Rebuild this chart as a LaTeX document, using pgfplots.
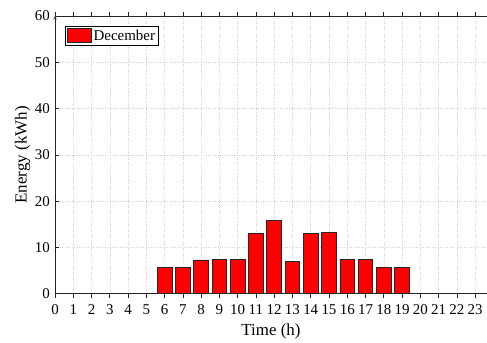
\documentclass[border=0pt]{standalone}
\usepackage{fontspec}
\setmainfont{Liberation Serif}
\usepackage{pgfplots}
\pgfplotsset{compat=1.18}

\definecolor{axgray}{rgb}{0.15,0.15,0.15}
\definecolor{gridgray}{rgb}{0.82,0.82,0.82}

\begin{document}
\begin{tikzpicture}
\begin{axis}[
  at={(0,0)}, anchor=south west,
  scale only axis,
  width=432bp, height=277.7bp,
  xmin=0, xmax=23.65,
  ymin=0, ymax=60,
  xtick={0,1,...,23},
  ytick={0,10,...,60},
  axis x line=box,
  axis y line=left,
  axis line style={axgray, line width=0.6pt},
  tick align=inside,
  tick style={axgray, line width=0.6pt},
  major tick length=4bp,
  grid=major,
  major grid style={gridgray, dotted, line width=0.5pt},
  /pgf/number format/assume math mode=true,
  ticklabel style={font=\fontsize{15}{17}\selectfont, text=black},
  xticklabel style={inner sep=0pt, yshift=-7bp},
  yticklabel style={inner sep=0pt, xshift=-5bp},
  xlabel={Time (h)},
  ylabel={Energy (kWh)},
  label style={font=\fontsize{17}{19}\selectfont},
  xlabel style={yshift=-5bp},
  ylabel style={yshift=1bp},
  ybar, bar width=0.8,
  legend style={at={(0,1)}, anchor=north west, xshift=10bp, yshift=-10bp,
    draw=black, line width=0.6pt, inner sep=1.5pt,
    font=\fontsize{15}{17}\selectfont},
  legend cell align=left,
  legend image code/.code={\draw[#1] (0cm,-0.22cm) rectangle (0.85cm,0.27cm);},
  clip=true,
]
\addplot[fill=red, draw=black!85, line width=0.8pt] coordinates {
  (0,0) (1,0) (2,0) (3,0) (4,0) (5,0)
  (6,5.7) (7,5.7) (8,7.3) (9,7.35) (10,7.45)
  (11,13.05) (12,15.8) (13,7.0) (14,13.05) (15,13.2)
  (16,7.45) (17,7.45) (18,5.7) (19,5.7)
  (20,0) (21,0) (22,0) (23,0)
};
\legend{December}
\end{axis}
\pgfresetboundingbox
\useasboundingbox (-55bp,-49.3bp) rectangle (432bp,293.7bp);
\end{tikzpicture}
\end{document}
